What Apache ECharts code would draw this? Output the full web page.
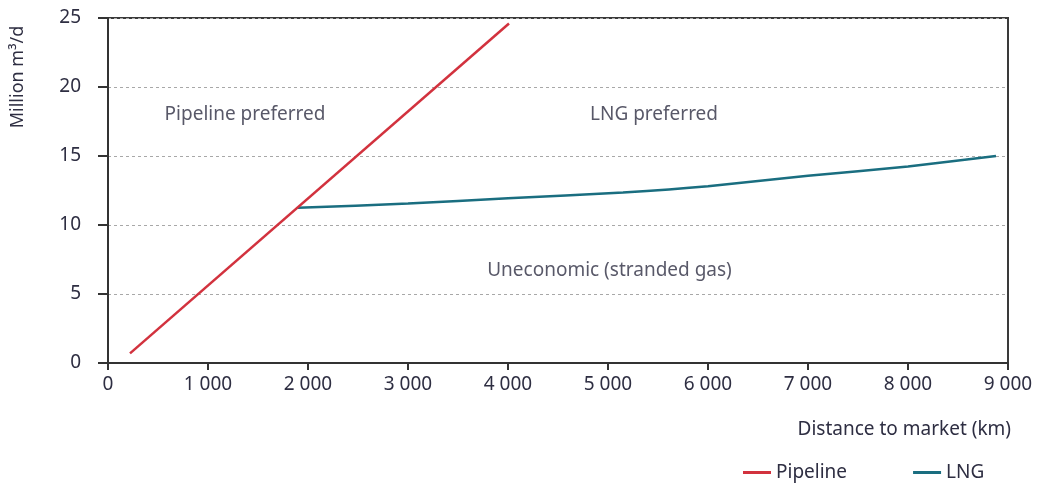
<!DOCTYPE html>
<html>
<head>
<meta charset="utf-8">
<script src="https://cdn.jsdelivr.net/npm/echarts@6/dist/echarts.min.js"></script>
<style>
  html, body { margin: 0; padding: 0; background: #fff; }
  #chart { width: 1041px; height: 484px; }
</style>
</head>
<body>
<div id="chart"></div>
<script>
// distance to market (km) vs volume (million m3/d)
const pipelinePoints = [[220, 0.7], [4010, 24.6]]
const lngPoints = [[1900, 11.25], [3000, 11.55], [4000, 11.93], [5150, 12.35], [6000, 12.8], [7000, 13.57], [8000, 14.24], [8880, 15.0]]
const regionLabels = ['Pipeline preferred', 'LNG preferred', 'Uneconomic (stranded gas)']
const regionPos = [[1370, 18], [5460, 18], [5015, 6.7]]
const xTicks = [0, 1000, 2000, 3000, 4000, 5000, 6000, 7000, 8000, 9000]
const yTicks = [0, 5, 10, 15, 20, 25]

const textColor = '#2e2e42'
const font = 'Noto Sans'

const fmtThousands = (v) => String(v).replace(/\B(?=(\d{3})+(?!\d))/g, ' ')

const myChart = echarts.init(document.getElementById('chart'))
const options = {
  animation: false,
  textStyle: { fontFamily: font },
  grid: {
    left: 108,
    right: 33,
    top: 18,
    bottom: 121,
    show: true,
    borderColor: '#3a3a3a',
    borderWidth: 2
  },
  xAxis: {
    type: 'value',
    min: xTicks[0],
    max: xTicks[xTicks.length - 1],
    interval: 1000,
    axisLine: { lineStyle: { color: '#333', width: 2 } },
    axisTick: { show: true, length: 7, lineStyle: { color: '#333', width: 2 } },
    axisLabel: {
      color: textColor,
      fontSize: 19,
      margin: 12,
      formatter: (v) => fmtThousands(v)
    },
    splitLine: { show: false }
  },
  yAxis: {
    type: 'value',
    min: yTicks[0],
    max: yTicks[yTicks.length - 1],
    interval: 5,
    axisLine: { show: true, lineStyle: { color: '#333', width: 2 } },
    axisTick: { show: true, length: 10, lineStyle: { color: '#333', width: 2 } },
    axisLabel: { color: textColor, fontSize: 19, margin: 27 },
    splitLine: {
      show: true,
      lineStyle: { color: '#a8a8a8', type: [3, 3], width: 1 }
    }
  },
  legend: {
    left: 738,
    top: 458,
    itemWidth: 28,
    itemHeight: 3,
    itemGap: 66,
    icon: 'rect',
    textStyle: { color: textColor, fontSize: 19, fontFamily: font },
    data: ['Pipeline', 'LNG']
  },
  graphic: [
    {
      type: 'text',
      x: 18,
      y: 77,
      rotation: Math.PI / 2,
      style: {
        text: 'Million m³/d',
        fill: textColor,
        fontSize: 18,
        fontFamily: font,
        align: 'center',
        verticalAlign: 'middle'
      }
    },
    {
      type: 'text',
      right: 30,
      top: 420,
      style: {
        text: 'Distance to market (km)',
        fill: textColor,
        fontSize: 19,
        fontFamily: font
      }
    }
  ],
  series: [
    {
      name: 'Pipeline',
      type: 'line',
      data: pipelinePoints,
      symbol: 'none',
      lineStyle: { color: '#d2323e', width: 2.5 },
      itemStyle: { color: '#d2323e' },
      z: 3
    },
    {
      name: 'LNG',
      type: 'line',
      data: lngPoints,
      symbol: 'none',
      smooth: 0.2,
      lineStyle: { color: '#1a6e80', width: 2.5 },
      itemStyle: { color: '#1a6e80' },
      z: 2
    },
    {
      name: 'regions',
      type: 'scatter',
      data: regionPos.map((p, i) => ({ value: p, name: regionLabels[i] })),
      symbolSize: 0,
      silent: true,
      label: {
        show: true,
        position: 'inside',
        formatter: (p) => p.name,
        color: textColor,
        fontSize: 19,
        fontFamily: font
      }
    }
  ]
}
myChart.setOption(options)
</script>
</body>
</html>
